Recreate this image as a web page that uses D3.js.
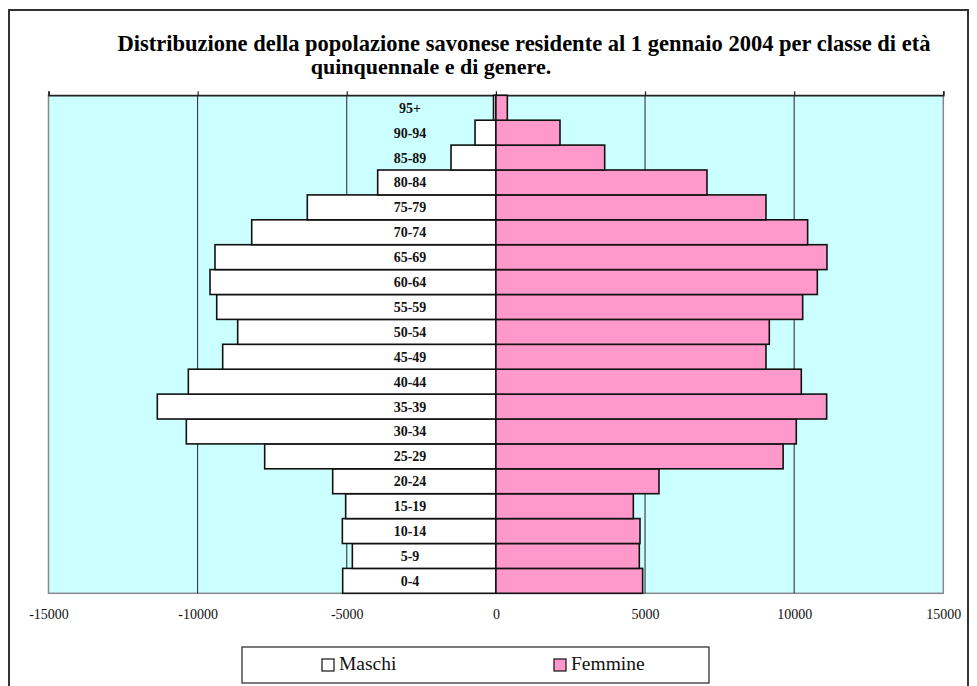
<!DOCTYPE html>
<html>
<head>
<meta charset="utf-8">
<script src="https://cdn.jsdelivr.net/npm/d3@7"></script>
<style>
  html, body { margin: 0; padding: 0; background: #fff; }
  svg { display: block; }
  text { font-family: "Liberation Serif", "Tinos", "Times New Roman", "DejaVu Serif", serif; }
</style>
</head>
<body>
<svg id="chart" width="977" height="686"></svg>
<script>
const ages = ["0-4","5-9","10-14","15-19","20-24","25-29","30-34","35-39","40-44","45-49","50-54","55-59","60-64","65-69","70-74","75-79","80-84","85-89","90-94","95+"];
const maschi = [5137, 4813, 5148, 5037, 5472, 7752, 10379, 11352, 10312, 9160, 8657, 9360, 9585, 9418, 8187, 6323, 3963, 1505, 700, 80];
const femmine = [4920, 4808, 4831, 4607, 5468, 9630, 10071, 11089, 10239, 9055, 9166, 10285, 10776, 11100, 10452, 9055, 7077, 3647, 2149, 383];
const tickValues = [-15000, -10000, -5000, 0, 5000, 10000, 15000];
const gridValues = [-10000, -5000, 5000, 10000];
const titleLines = ["Distribuzione della popolazione savonese residente al 1 gennaio 2004 per classe di età", "quinquennale e di genere."];
const seriesNames = ["Maschi", "Femmine"];
const seriesColors = ["#FFFFFF", "#FF99CC"];

(function () {
const svg = d3.select("#chart");

// outer frame
svg.append("rect").attr("x", 9).attr("y", 10).attr("width", 959).attr("height", 700)
  .attr("fill", "#fff").attr("stroke", "#333").attr("stroke-width", 2);

// title
svg.append("text").attr("x", 524).attr("y", 50.5).attr("text-anchor", "middle")
  .attr("font-weight", "bold").attr("font-size", 22.5)
  .text(titleLines[0]);
svg.append("text").attr("x", 431).attr("y", 73.5).attr("text-anchor", "middle")
  .attr("font-weight", "bold").attr("font-size", 22)
  .text(titleLines[1]);

const pLeft = 48.5, pRight = 943.3, pTop = 95.3, pBottom = 593.3;
const x = d3.scaleLinear().domain([-15000, 15000]).range([pLeft, pRight]);
const y = d3.scaleBand().domain(ages.slice().reverse()).range([pTop, pBottom]).padding(0);

// plot background
svg.append("rect").attr("x", pLeft).attr("y", pTop).attr("width", pRight - pLeft).attr("height", pBottom - pTop)
  .attr("fill", "#CCFFFF").attr("stroke", "#888").attr("stroke-width", 1.5);

// gridlines
svg.append("g").selectAll("line").data(gridValues).join("line")
  .attr("x1", d => x(d)).attr("x2", d => x(d)).attr("y1", pTop).attr("y2", pBottom)
  .attr("stroke", "#222").attr("stroke-width", 1);

// top axis (ticks only)
const topAxis = svg.append("g").attr("transform", `translate(0,${pTop})`)
  .call(d3.axisTop(x).tickValues(tickValues).tickSize(4).tickFormat(""));
topAxis.select(".domain").attr("stroke", "#222").attr("stroke-width", 1.5);
topAxis.selectAll(".tick line").attr("stroke", "#222").attr("stroke-width", 1.2);

// bars
const rows = ages.map((a, i) => ({ age: a, m: maschi[i], f: femmine[i] }));
const g = svg.append("g");
g.selectAll("rect.m").data(rows).join("rect").attr("class", "m")
  .attr("x", d => x(-d.m)).attr("width", d => x(0) - x(-d.m))
  .attr("y", d => y(d.age)).attr("height", y.bandwidth())
  .attr("fill", seriesColors[0]).attr("stroke", "#111").attr("stroke-width", 1.6);
g.selectAll("rect.f").data(rows).join("rect").attr("class", "f")
  .attr("x", x(0)).attr("width", d => x(d.f) - x(0))
  .attr("y", d => y(d.age)).attr("height", y.bandwidth())
  .attr("fill", seriesColors[1]).attr("stroke", "#111").attr("stroke-width", 1.6);

// category labels
g.selectAll("text.lab").data(rows).join("text").attr("class", "lab")
  .attr("x", 410).attr("y", d => y(d.age) + y.bandwidth() / 2 + 5)
  .attr("text-anchor", "middle").attr("font-weight", "bold")
  .attr("font-size", 14).attr("fill", "#111").text(d => d.age);

// bottom axis labels
const bottomAxis = svg.append("g").attr("transform", `translate(0,${pBottom})`)
  .call(d3.axisBottom(x).tickValues(tickValues).tickSize(0).tickPadding(16)
    .tickFormat(d => String(d)));
bottomAxis.select(".domain").remove();
bottomAxis.attr("font-family", null);
bottomAxis.selectAll("text").attr("font-size", 14).attr("fill", "#111");

// legend
const lg = svg.append("g");
lg.append("rect").attr("x", 242).attr("y", 647).attr("width", 467).attr("height", 36)
  .attr("fill", "#fff").attr("stroke", "#222").attr("stroke-width", 1.2);
const legX = [322, 554];
seriesNames.forEach((n, i) => {
  lg.append("rect").attr("x", legX[i]).attr("y", 659).attr("width", 12).attr("height", 12)
    .attr("fill", seriesColors[i]).attr("stroke", "#111").attr("stroke-width", 1.2);
  lg.append("text").attr("x", legX[i] + 17).attr("y", 670)
    .attr("font-size", 19.5).attr("fill", "#111").text(n);
});
})();
</script>
</body>
</html>
